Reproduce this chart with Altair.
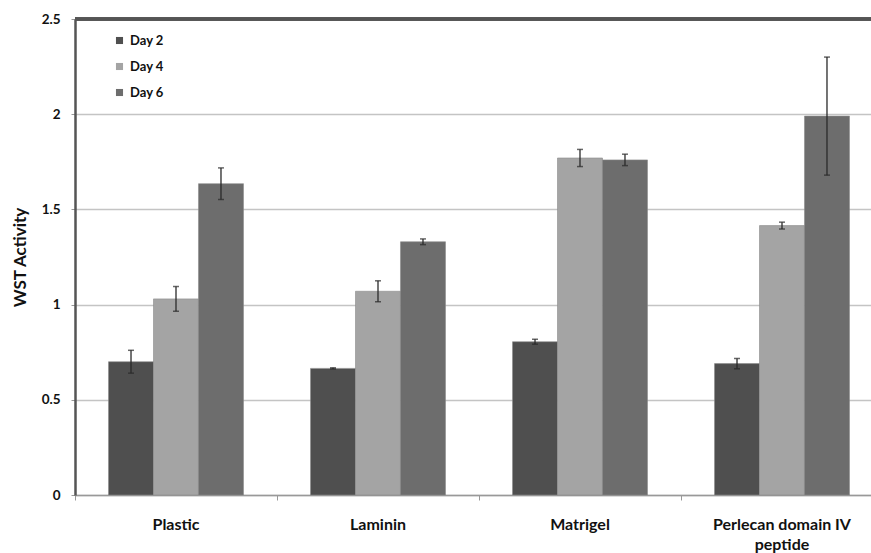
import altair as alt
import pandas as pd

# WST activity per substrate, measured on days 2, 4 and 6
substrates = ["Plastic", "Laminin", "Matrigel", "Perlecan domain IV peptide"]
days = ["Day 2", "Day 4", "Day 6"]
day2_mean = [0.70, 0.665, 0.805, 0.69]
day4_mean = [1.03, 1.07, 1.77, 1.415]
day6_mean = [1.635, 1.33, 1.76, 1.99]
day2_err = [0.06, 0.003, 0.013, 0.027]
day4_err = [0.065, 0.055, 0.045, 0.018]
day6_err = [0.083, 0.015, 0.03, 0.31]
day_colors = ["#4f4f4f", "#a4a4a4", "#6d6d6d"]

rows = []
for day, means, errs in zip(days, [day2_mean, day4_mean, day6_mean],
                            [day2_err, day4_err, day6_err]):
    for sub, m, e in zip(substrates, means, errs):
        rows.append({"substrate": sub, "day": day, "mean": m,
                     "lo": m - e, "hi": m + e})
df = pd.DataFrame(rows)

FONT = "Lato"

x_enc = alt.X(
    "substrate:N", sort=substrates, title=None,
    scale=alt.Scale(paddingInner=0, paddingOuter=0, range=[0, 808]),
    axis=alt.Axis(
        labelAngle=0, bandPosition=0, tickSize=5, tickColor="#999999",
        domainColor="#999999", domainWidth=1.5, labelPadding=16,
        labelFont=FONT, labelFontWeight="bold", labelFontSize=16,
        labelColor="#111111", labelLineHeight=20, labelBaseline="top",
        labelExpr="datum.label == 'Perlecan domain IV peptide' ? ['Perlecan domain IV', 'peptide'] : datum.label",
    ),
)
xo_enc = alt.XOffset("day:N", sort=days,
                     scale=alt.Scale(paddingInner=0, paddingOuter=0.745))

y_scale = alt.Scale(domain=[0, 2.5], nice=False)

bars = alt.Chart(df).mark_bar(stroke="#8a8a8a", strokeWidth=0.6).encode(
    x=x_enc,
    xOffset=xo_enc,
    y=alt.Y("mean:Q", scale=y_scale, title="WST Activity",
            axis=alt.Axis(values=[0, 0.5, 1, 1.5, 2, 2.5], format="~g",
                          gridColor="#c4c4c4", gridWidth=1.6,
                          domainColor="#555555", domainWidth=2.5,
                          tickColor="#999999", tickSize=4, labelPadding=11,
                          labelFont=FONT, labelFontWeight="bold",
                          labelFontSize=13.5, labelColor="#111111",
                          titleFont=FONT, titleFontWeight="bold",
                          titleFontSize=17, titleColor="#111111",
                          titlePadding=12)),
    color=alt.Color("day:N", sort=days,
                    scale=alt.Scale(domain=days, range=day_colors),
                    legend=alt.Legend(
                        title=None, orient="none", legendX=38, legendY=15,
                        symbolType="square", symbolSize=50,
                        symbolStrokeWidth=0, rowPadding=12,
                        labelFont=FONT, labelFontWeight="bold",
                        labelFontSize=13, labelColor="#111111",
                        labelOffset=4)),
)

whisker = alt.Chart(df).mark_rule(color="#2a2a2a", strokeWidth=1.3).encode(
    x=x_enc, xOffset=xo_enc,
    y=alt.Y("lo:Q", scale=y_scale), y2="hi:Q",
)
cap_lo = alt.Chart(df).mark_tick(color="#2a2a2a", thickness=1.5, size=6).encode(
    x=x_enc, xOffset=xo_enc, y=alt.Y("lo:Q", scale=y_scale),
)
cap_hi = alt.Chart(df).mark_tick(color="#2a2a2a", thickness=1.5, size=6).encode(
    x=x_enc, xOffset=xo_enc, y=alt.Y("hi:Q", scale=y_scale),
)

# dark frame line along the top of the plot
top_line = alt.Chart(df).mark_rule(color="#555555", strokeWidth=2.5).encode(
    y=alt.datum(2.5, scale=y_scale),
)

chart = alt.layer(bars, whisker, cap_lo, cap_hi, top_line).properties(
    width=796, height=476,
    autosize=alt.AutoSizeParams(type="none"),
    padding={"left": 75, "top": 19, "right": 0, "bottom": 58},
    background="white",
).configure_view(stroke=None)

chart.save("out.html", embed_options={"renderer": "svg", "actions": False})
